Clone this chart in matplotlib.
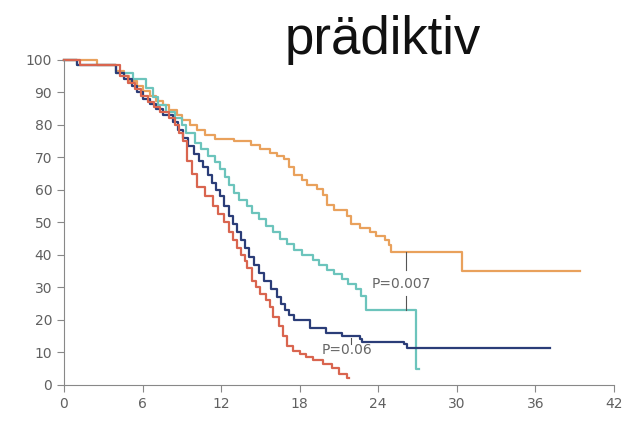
import numpy as np
import matplotlib
matplotlib.use("Agg")
import matplotlib.pyplot as plt

# Kaplan-Meier Kurven, Werte (Monate, Überleben %)
t_orange = [0, 2.5, 4.0, 4.6, 5.0, 5.6, 6.0, 6.6, 7.0, 7.6, 8.0, 8.6, 9.0, 9.6, 10.2, 10.8,
            11.5, 13.0, 14.3, 15.0, 15.7, 16.3, 16.8, 17.2, 17.6, 18.2, 18.6, 19.3, 19.8,
            20.1, 20.6, 21.6, 21.9, 22.6, 23.4, 23.8, 24.5, 24.8, 25.0, 30.4, 39.4]
s_orange = [100, 98.5, 96.5, 95, 93.5, 92, 90.5, 89, 87.5, 86, 84.5, 83, 81.5, 80, 78.5, 77,
            75.8, 75, 73.8, 72.6, 71.4, 70.5, 69.5, 67, 64.5, 63, 61.5, 60.2, 58.5,
            55.5, 53.8, 52, 49.5, 48.3, 47, 45.8, 44.5, 43, 41, 35, 35]

t_teal = [0, 1.0, 4.0, 5.3, 6.3, 6.8, 7.2, 7.8, 8.5, 9.0, 9.3, 10.0, 10.5, 11.0, 11.5, 11.9,
          12.3, 12.6, 13.0, 13.4, 14.0, 14.4, 14.9, 15.4, 16.0, 16.5, 17.0, 17.6, 18.2,
          19.0, 19.5, 20.1, 20.6, 21.2, 21.7, 22.3, 22.7, 23.1, 26.9, 27.1]
s_teal = [100, 98.5, 96, 94, 91.5, 88.5, 86, 84, 82, 80, 77.5, 74.5, 72.5, 70.5, 68.5, 66.5,
          64, 61.5, 59, 57, 55, 53, 51, 49, 47, 45, 43.5, 41.5, 40, 38.5, 37, 35.5, 34,
          32.5, 31, 29.5, 27.5, 23, 5, 5]

t_navy = [0, 1.0, 4.0, 4.6, 5.2, 5.6, 6.0, 6.6, 7.0, 7.6, 8.3, 8.7, 9.1, 9.5, 9.9, 10.3,
          10.6, 11.0, 11.3, 11.6, 11.9, 12.2, 12.6, 12.9, 13.2, 13.5, 13.8, 14.1, 14.5,
          14.9, 15.3, 15.8, 16.3, 16.6, 16.9, 17.2, 17.6, 18.8, 20.0, 21.2, 22.6, 22.8,
          26.0, 26.2, 37.1]
s_navy = [100, 98.5, 96, 94, 92, 90, 88, 86.5, 85, 83, 81, 78.5, 76, 73.5, 71, 69,
          67, 64.5, 62, 60, 58, 55, 52, 49.5, 47, 44.5, 42, 39.5, 37,
          34.5, 32, 29.5, 27, 25, 23, 21.5, 20, 17.5, 16, 15, 14, 13.2,
          12.5, 11.4, 11.4]

t_red = [0, 1.2, 4.3, 4.9, 5.4, 5.9, 6.4, 6.9, 7.3, 8.0, 8.5, 8.8, 9.1, 9.4, 9.8, 10.2,
         10.8, 11.4, 11.8, 12.2, 12.6, 12.9, 13.2, 13.5, 13.8, 14.0, 14.4, 14.7, 15.0,
         15.4, 15.7, 16.0, 16.4, 16.7, 17.0, 17.5, 18.0, 18.5, 19.0, 19.8, 20.5, 21.0,
         21.6, 21.8]
s_red = [100, 98.5, 95, 93, 91, 89, 87, 85.5, 84, 82, 80, 77.5, 75, 69, 65, 61,
         58, 55, 52.5, 50, 47, 44.6, 42, 40, 38, 36, 32, 30, 28,
         26, 24, 21, 18, 15, 12, 10.5, 9.5, 8.6, 7.7, 6.4, 5.2, 3.5,
         2, 2]

x_ticks = [0, 6, 12, 18, 24, 30, 36, 42]
y_ticks = [0, 10, 20, 30, 40, 50, 60, 70, 80, 90, 100]

fig = plt.figure(figsize=(6.27, 4.29), dpi=100)
ax = fig.add_axes([0.102, 0.1026, 0.877, 0.7576])

for t, s, c in [(t_orange, s_orange, '#e9a15c'),
                (t_teal, s_teal, '#6cc4bc'),
                (t_navy, s_navy, '#2b3d78'),
                (t_red, s_red, '#d9654f')]:
    ax.plot(t, s, drawstyle='steps-post', color=c, lw=1.6, clip_on=False)

# P-Werte mit Verbindungsstrichen
ax.plot([26.1, 26.1], [40.8, 35.5], color='#555555', lw=0.8)
ax.plot([26.1, 26.1], [27.5, 23], color='#555555', lw=0.8)
ax.text(23.5, 31, 'P=0.007', fontsize=10, color='#666666', va='center')
ax.plot([21.9, 21.9], [14.5, 12.5], color='#555555', lw=0.8)
ax.text(19.7, 10.8, 'P=0.06', fontsize=10, color='#666666', va='center')

ax.set_xlim(0, 42)
ax.set_ylim(0, 100)
ax.set_xticks(x_ticks)
ax.set_yticks(y_ticks)
for sp in ['top', 'right']:
    ax.spines[sp].set_visible(False)
for sp in ['left', 'bottom']:
    ax.spines[sp].set_color('#888888')
ax.tick_params(colors='#888888', labelcolor='#606060', labelsize=10, length=5)

fig.text(0.611, 0.874, 'prädiktiv', fontsize=38, family='Liberation Sans',
         ha='center', va='baseline', color='#111111')

fig.savefig('out.png', dpi=100)
